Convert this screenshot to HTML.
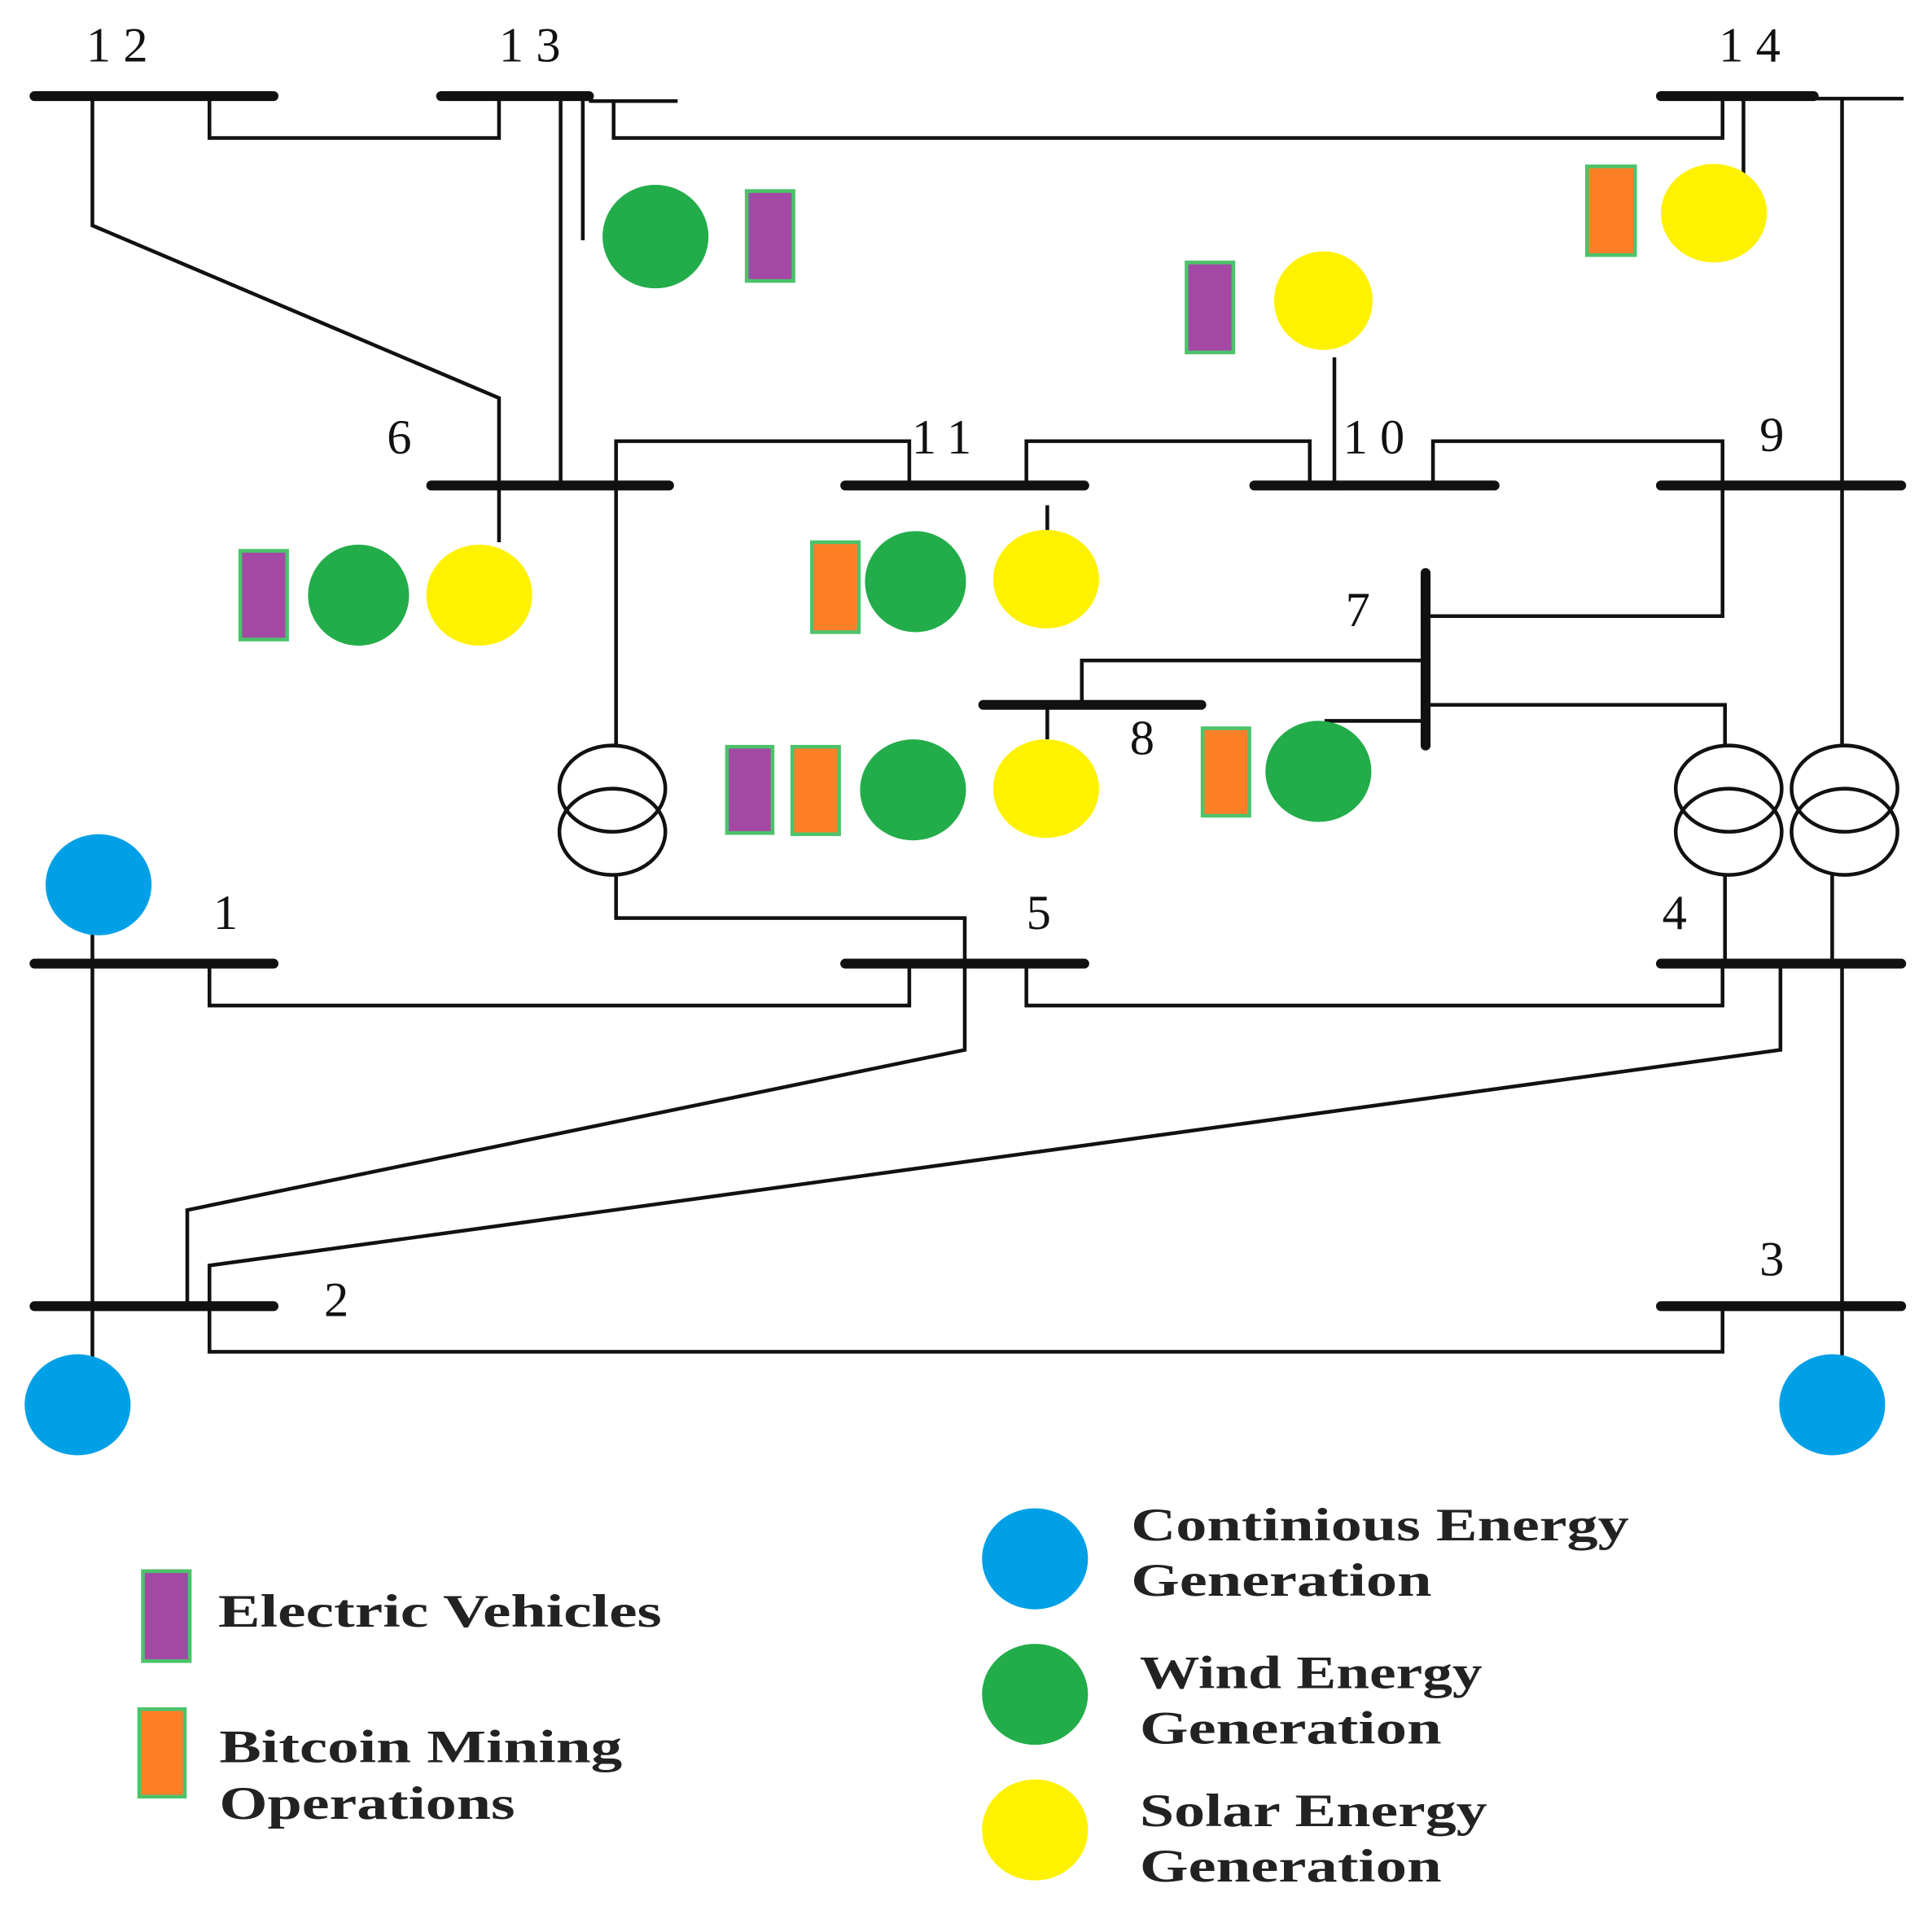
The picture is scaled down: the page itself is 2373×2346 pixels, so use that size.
<!DOCTYPE html>
<html><head><meta charset="utf-8"><style>
html,body{margin:0;padding:0;background:#fff;}
svg{display:block;}
.n{font-family:"Liberation Serif",serif;font-size:40px;fill:#111;letter-spacing:10px;}
.l{font-family:"Liberation Serif",serif;font-size:38px;font-weight:bold;fill:#222;}
</style></head><body>
<svg width="2373" height="2346" viewBox="0 0 1568 1550" preserveAspectRatio="none" xmlns="http://www.w3.org/2000/svg">
<g stroke="#111" stroke-width="8" stroke-linecap="round" fill="none">
<line x1="28" y1="78" x2="222" y2="78"/>
<line x1="358" y1="78" x2="478" y2="78"/>
<line x1="1348" y1="78" x2="1472" y2="78"/>
<line x1="350" y1="394" x2="543" y2="394"/>
<line x1="686" y1="394" x2="880" y2="394"/>
<line x1="1018" y1="394" x2="1213" y2="394"/>
<line x1="1348" y1="394" x2="1543" y2="394"/>
<line x1="1157" y1="465" x2="1157" y2="605"/>
<line x1="798" y1="572" x2="975" y2="572"/>
<line x1="28" y1="782" x2="222" y2="782"/>
<line x1="686" y1="782" x2="880" y2="782"/>
<line x1="1348" y1="782" x2="1543" y2="782"/>
<line x1="28" y1="1060" x2="222" y2="1060"/>
<line x1="1348" y1="1060" x2="1543" y2="1060"/>
</g>
<g stroke="#111" stroke-width="3" fill="none">
<line x1="478" y1="82" x2="550" y2="82"/>
<line x1="1472" y1="80" x2="1545" y2="80"/>
<polyline points="170,78 170,112 405,112 405,78"/>
<polyline points="75,78 75,183 405,323 405,440"/>
<line x1="455" y1="78" x2="455" y2="394"/>
<line x1="473" y1="78" x2="473" y2="195"/>
<polyline points="498,82 498,112 1398,112 1398,78"/>
<line x1="1415" y1="78" x2="1415" y2="150"/>
<line x1="1495" y1="80" x2="1495" y2="605"/>
<polyline points="738,394 738,358 500,358 500,605"/>
<polyline points="500,710 500,745 783,745 783,852 152,982 152,1060"/>
<polyline points="833,394 833,358 1063,358 1063,394"/>
<line x1="1083" y1="290" x2="1083" y2="394"/>
<polyline points="1163,394 1163,358 1398,358 1398,500 1160,500"/>
<line x1="850" y1="410" x2="850" y2="432"/>
<polyline points="1157,536 878,536 878,572"/>
<line x1="850" y1="572" x2="850" y2="600"/>
<line x1="1157" y1="585" x2="1075" y2="585"/>
<polyline points="1157,572 1400,572 1400,605"/>
<line x1="1400" y1="710" x2="1400" y2="782"/>
<line x1="1487" y1="710" x2="1487" y2="782"/>
<line x1="1495" y1="782" x2="1495" y2="1100"/>
<polyline points="170,782 170,816 738,816 738,782"/>
<polyline points="833,782 833,816 1398,816 1398,782"/>
<polyline points="1445,782 1445,852 170,1027 170,1097 1398,1097 1398,1060"/>
<line x1="75" y1="740" x2="75" y2="1110"/>
<ellipse cx="497" cy="640" rx="43" ry="35"/>
<ellipse cx="497" cy="675" rx="43" ry="35"/>
<ellipse cx="1403" cy="640" rx="43" ry="35"/>
<ellipse cx="1403" cy="675" rx="43" ry="35"/>
<ellipse cx="1497" cy="640" rx="43" ry="35"/>
<ellipse cx="1497" cy="675" rx="43" ry="35"/>
</g>
<g fill="#00a0e6">
<ellipse cx="80" cy="718" rx="43" ry="41"/>
<ellipse cx="63" cy="1140" rx="43" ry="41"/>
<ellipse cx="1487" cy="1140" rx="43" ry="41"/>
<ellipse cx="840" cy="1265" rx="43" ry="41"/>
</g>
<g fill="#22ad4a">
<ellipse cx="532" cy="192" rx="43" ry="42"/>
<ellipse cx="291" cy="483" rx="41" ry="41"/>
<ellipse cx="743" cy="472" rx="41" ry="41"/>
<ellipse cx="741" cy="641" rx="43" ry="41"/>
<ellipse cx="1070" cy="626" rx="43" ry="41"/>
<ellipse cx="840" cy="1375" rx="43" ry="41"/>
</g>
<g fill="#fff200">
<ellipse cx="1391" cy="173" rx="43" ry="40"/>
<ellipse cx="1074" cy="244" rx="40" ry="40"/>
<ellipse cx="389" cy="483" rx="43" ry="41"/>
<ellipse cx="849" cy="470" rx="43" ry="40"/>
<ellipse cx="849" cy="640" rx="43" ry="40"/>
<ellipse cx="840" cy="1485" rx="43" ry="41"/>
</g>
<g stroke="#4cc36a" stroke-width="3">
<rect x="606" y="155" width="38" height="73" fill="#a349a4"/>
<rect x="963" y="213" width="38" height="73" fill="#a349a4"/>
<rect x="195" y="447" width="38" height="72" fill="#a349a4"/>
<rect x="590" y="606" width="37" height="70" fill="#a349a4"/>
<rect x="116" y="1275" width="38" height="73" fill="#a349a4"/>
<rect x="1288" y="135" width="39" height="72" fill="#ff7f27"/>
<rect x="659" y="440" width="38" height="73" fill="#ff7f27"/>
<rect x="643" y="606" width="38" height="71" fill="#ff7f27"/>
<rect x="976" y="591" width="38" height="71" fill="#ff7f27"/>
<rect x="113" y="1387" width="37" height="71" fill="#ff7f27"/>
</g>
<g class="n">
<text x="70" y="50">12</text>
<text x="405" y="50">13</text>
<text x="1395" y="50">14</text>
<text x="314" y="368">6</text>
<text x="740" y="368">11</text>
<text x="1090" y="368">10</text>
<text x="1428" y="366">9</text>
<text x="1092" y="508">7</text>
<text x="917" y="612">8</text>
<text x="173" y="754">1</text>
<text x="833" y="754">5</text>
<text x="1349" y="754">4</text>
<text x="263" y="1068">2</text>
<text x="1428" y="1035">3</text>
</g>
<g class="l">
<text x="177" y="1320" textLength="360" lengthAdjust="spacingAndGlyphs">Electric Vehicles</text>
<text x="178" y="1430" textLength="327" lengthAdjust="spacingAndGlyphs">Bitcoin Mining</text>
<text x="178" y="1476" textLength="240" lengthAdjust="spacingAndGlyphs">Operations</text>
<text x="918" y="1250" textLength="404" lengthAdjust="spacingAndGlyphs">Continious Energy</text>
<text x="918" y="1295" textLength="244" lengthAdjust="spacingAndGlyphs">Generation</text>
<text x="925" y="1370" textLength="278" lengthAdjust="spacingAndGlyphs">Wind Energy</text>
<text x="925" y="1415" textLength="245" lengthAdjust="spacingAndGlyphs">Generation</text>
<text x="925" y="1482" textLength="282" lengthAdjust="spacingAndGlyphs">Solar Energy</text>
<text x="925" y="1527" textLength="245" lengthAdjust="spacingAndGlyphs">Generation</text>
</g>
</svg>
</body></html>
